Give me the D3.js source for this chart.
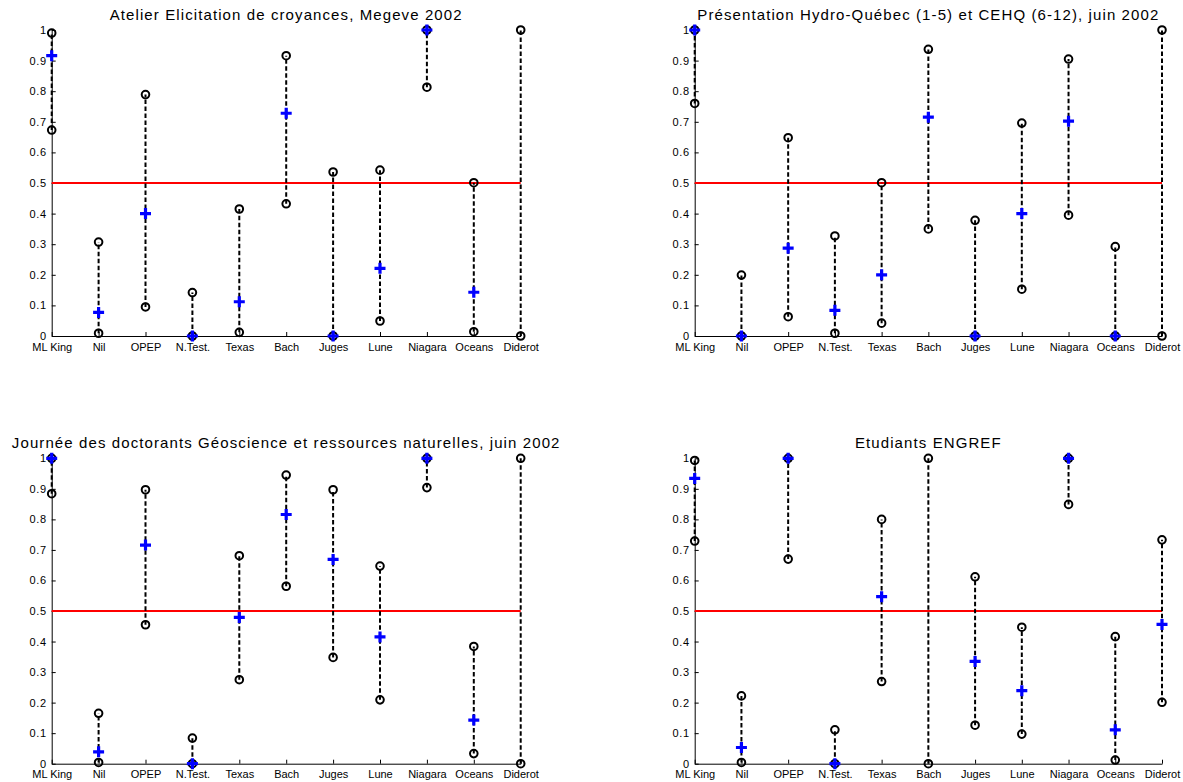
<!DOCTYPE html>
<html>
<head>
<meta charset="utf-8">
<script src="https://cdn.jsdelivr.net/npm/d3@7"></script>
<style>
  html, body { margin: 0; padding: 0; background: #fff; }
  svg { display: block; }
  text { font-family: "Liberation Sans", Arial, Helvetica, sans-serif; fill: #000; }
</style>
</head>
<body>
<svg id="chart" width="1183" height="782"></svg>
<script>
const categories = ["ML King","Nil","OPEP","N.Test.","Texas","Bach","Juges","Lune","Niagara","Oceans","Diderot"];
const yTicks = [0,0.1,0.2,0.3,0.4,0.5,0.6,0.7,0.8,0.9,1];
const yTickLabels = ["0","0.1","0.2","0.3","0.4","0.5","0.6","0.7","0.8","0.9","1"];
const threshold = 0.5;

const titles = [
  "Atelier Elicitation de croyances, Megeve 2002",
  "Présentation Hydro-Québec (1-5) et CEHQ (6-12), juin 2002",
  "Journée des doctorants Géoscience et ressources naturelles, juin 2002",
  "Etudiants ENGREF"
];

const high1 = [0.99, 0.307, 0.789, 0.142, 0.415, 0.916, 0.536, 0.542, 1, 0.501, 1];
const mean1 = [0.916, 0.077, 0.40, 0, 0.112, 0.728, 0, 0.221, 1, 0.143, null];
const low1  = [0.673, 0.009, 0.095, 0, 0.012, 0.432, 0, 0.049, 0.813, 0.014, 0];

const high2 = [1, 0.199, 0.648, 0.327, 0.501, 0.937, 0.378, 0.696, 0.905, 0.292, 1];
const mean2 = [1, 0, 0.287, 0.084, 0.2, 0.715, 0, 0.40, 0.702, 0, null];
const low2  = [0.76, 0, 0.063, 0.009, 0.042, 0.35, 0, 0.153, 0.395, 0, 0];

const high3 = [1, 0.165, 0.897, 0.084, 0.681, 0.945, 0.897, 0.647, 1, 0.384, 1];
const mean3 = [1, 0.039, 0.716, 0, 0.479, 0.816, 0.669, 0.415, 1, 0.143, null];
const low3  = [0.884, 0.004, 0.455, 0, 0.275, 0.581, 0.348, 0.209, 0.904, 0.033, 0];

const high4 = [0.993, 0.222, 1, 0.111, 0.80, 1, 0.612, 0.447, 1, 0.416, 0.733];
const mean4 = [0.934, 0.053, 1, 0, 0.547, null, 0.335, 0.239, 1, 0.111, 0.456];
const low4  = [0.729, 0.004, 0.67, 0, 0.269, 0, 0.126, 0.097, 0.849, 0.012, 0.201];

const panels = [
  {title: titles[0], high: high1, mean: mean1, low: low1, x0: 51.7, x1: 520.7, y0: 336, y1: 30},
  {title: titles[1], high: high2, mean: mean2, low: low2, x0: 694.7, x1: 1162, y0: 336, y1: 30},
  {title: titles[2], high: high3, mean: mean3, low: low3, x0: 51.7, x1: 520.7, y0: 763.7, y1: 458.3},
  {title: titles[3], high: high4, mean: mean4, low: low4, x0: 694.7, x1: 1162, y0: 763.7, y1: 458.3}
];

const svg = d3.select("#chart");

panels.forEach(p => {
  const g = svg.append("g");
  const x = d3.scalePoint().domain(categories).range([p.x0, p.x1]);
  const y = d3.scaleLinear().domain([0, 1]).range([p.y0, p.y1]);

  // axes
  const yAxis = d3.axisLeft(y).tickValues(yTicks)
    .tickFormat((d, i) => yTickLabels[i]).tickSizeInner(-4).tickSizeOuter(0).tickPadding(5);
  const ya = g.append("g").attr("transform", `translate(${p.x0},0)`).call(yAxis);
  const xAxis = d3.axisBottom(x).tickSizeInner(-4).tickSizeOuter(0).tickPadding(7);
  const xa = g.append("g").attr("transform", `translate(0,${p.y0})`).call(xAxis);
  [ya, xa].forEach(a => {
    a.select(".domain").attr("stroke", "#000").attr("stroke-width", 1);
    a.selectAll(".tick line").attr("stroke", "#000").attr("stroke-width", 1);
    a.selectAll(".tick text").attr("font-size", "11px")
      .attr("font-family", '"Liberation Sans", Arial, sans-serif').attr("fill", "#000");
  });
  ya.selectAll(".tick text").attr("letter-spacing", "0.6px");
  xa.selectAll(".tick text").attr("dy", "0.71em");

  // threshold line
  g.append("line")
    .attr("x1", x(categories[0])).attr("x2", x(categories[categories.length - 1]))
    .attr("y1", y(threshold)).attr("y2", y(threshold))
    .attr("stroke", "#ff0000").attr("stroke-width", 2);

  // dashed ranges
  g.selectAll(".rng").data(categories).enter().append("line")
    .attr("x1", d => x(d)).attr("x2", d => x(d))
    .attr("y1", (d, i) => y(p.low[i])).attr("y2", (d, i) => y(p.high[i]))
    .attr("stroke", "#000").attr("stroke-width", 2).attr("stroke-dasharray", "4.5,2.5");

  // circles
  const pts = [];
  categories.forEach((c, i) => { pts.push({c, v: p.low[i]}); pts.push({c, v: p.high[i]}); });
  g.selectAll(".pt").data(pts).enter().append("circle")
    .attr("cx", d => x(d.c)).attr("cy", d => y(d.v)).attr("r", 3.8)
    .attr("fill", "none").attr("stroke", "#000").attr("stroke-width", 2);

  // mean pluses
  const means = categories.map((c, i) => ({c, v: p.mean[i]})).filter(d => d.v !== null);
  g.selectAll(".plus").data(means).enter().append("path")
    .attr("d", d => {
      const cx = x(d.c), cy = y(d.v), s = 5.5;
      return `M${cx - s},${cy}H${cx + s}M${cx},${cy - s}V${cy + s}`;
    })
    .attr("stroke", "#0000ff").attr("stroke-width", 3.2).attr("fill", "none");

  // title
  g.append("text")
    .attr("x", (p.x0 + p.x1) / 2).attr("y", p.y1 - 10)
    .attr("text-anchor", "middle").attr("font-size", "15px")
    .attr("letter-spacing", "1.1px")
    .text(p.title);
});
</script>
</body>
</html>
